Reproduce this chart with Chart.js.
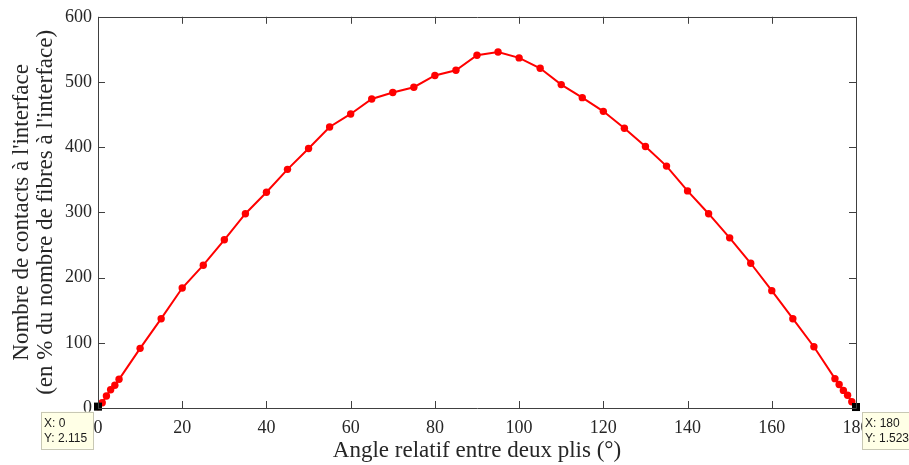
<!DOCTYPE html>
<html>
<head>
<meta charset="utf-8">
<script src="https://cdn.jsdelivr.net/npm/chart.js@4/dist/chart.umd.min.js"></script>
<style>
html,body{margin:0;padding:0;background:#fff;}
#wrap{width:909px;height:465px;position:relative;}
</style>
</head>
<body>
<div id="wrap"><canvas id="c" width="909" height="465"></canvas></div>
<script>
// Data
const angles = [0,1,2,3,4,5,10,15,20,25,30,35,40,45,50,55,60,65,70,75,80,85,90,95,100,105,110,115,120,125,130,135,140,145,150,155,160,165,170,175,176,177,178,179,180];
const contacts = [2.115,8,18.5,28,35,44,91.5,137,184,219,258,298,331,366,398,431,451,474,484,492,510,518,541,546,537,521,496,476,455,429,401,371,333,298,261,222,180,137,94,45,36,27,19.5,9.5,1.523];
const tipX = [0,180];
const tipY = [2.115,1.523];
const xTicks = [0,20,40,60,80,100,120,140,160,180];
const yTicks = [0,100,200,300,400,500,600];
const xTitle = 'Angle relatif entre deux plis (°)';
const yTitle = ["Nombre de contacts à l'interface", "(en % du nombre de fibres à l'interface)"];

const serif = "'Liberation Serif', 'Times New Roman', serif";
const axisColor = '#404040';

const boxPlugin = {
  id: 'boxPlugin',
  afterDatasetsDraw(chart) {
    const {ctx, chartArea: a, scales: {x, y}} = chart;
    ctx.save();
    ctx.strokeStyle = axisColor;
    ctx.lineWidth = 1;
    ctx.beginPath();
    ctx.rect(Math.round(a.left) + 0.5, Math.round(a.top) + 0.5, Math.round(a.right - a.left), Math.round(a.bottom - a.top));
    ctx.stroke();
    const tl = 7;
    ctx.beginPath();
    xTicks.forEach(v => {
      const px = Math.round(x.getPixelForValue(v)) + 0.5;
      ctx.moveTo(px, a.bottom); ctx.lineTo(px, a.bottom - tl);
      ctx.moveTo(px, a.top); ctx.lineTo(px, a.top + tl);
    });
    yTicks.forEach(v => {
      const py = Math.round(y.getPixelForValue(v)) + 0.5;
      ctx.moveTo(a.left, py); ctx.lineTo(a.left + tl, py);
      ctx.moveTo(a.right, py); ctx.lineTo(a.right - tl, py);
    });
    ctx.stroke();
    ctx.restore();
  },
  afterDraw(chart) {
    const {ctx, scales: {x, y}} = chart;
    ctx.save();
    ctx.font = "12px 'Liberation Sans', Arial, sans-serif";
    ctx.textBaseline = 'middle';
    tipX.forEach((xv, i) => {
      const px = x.getPixelForValue(xv);
      const py = y.getPixelForValue(tipY[i]);
      const w = i === 0 ? 52 : 52;
      const h = 37;
      const bx = i === 0 ? px - 5 - w : px + 6;
      const by = py + 5;
      ctx.fillStyle = '#ffffe6';
      ctx.fillRect(bx, by, w, h);
      ctx.strokeStyle = '#c8c8b4';
      ctx.lineWidth = 1;
      ctx.strokeRect(Math.round(bx) + 0.5, Math.round(by) + 0.5, w, h);
      ctx.fillStyle = '#1a1a1a';
      ctx.textAlign = 'left';
      ctx.fillText('X: ' + xv, bx + 3, by + 12);
      ctx.fillText('Y: ' + tipY[i], bx + 3, by + 27);
    });
    ctx.restore();
  }
};

new Chart(document.getElementById('c'), {
  type: 'scatter',
  data: {
    datasets: [
      {
        data: angles.map((a, i) => ({x: a, y: contacts[i]})),
        showLine: true,
        borderColor: '#ff0000',
        backgroundColor: '#ff0000',
        borderWidth: 2,
        pointRadius: 3.7,
        pointBorderWidth: 0,
        pointBackgroundColor: '#ff0000',
        tension: 0,
        clip: false,
        order: 2
      },
      {
        data: tipX.map((a, i) => ({x: a, y: tipY[i]})),
        showLine: false,
        pointStyle: 'rect',
        pointRadius: 5.7,
        pointBackgroundColor: '#000000',
        pointBorderColor: '#000000',
        pointBorderWidth: 0,
        clip: false,
        order: 1
      }
    ]
  },
  options: {
    responsive: false,
    animation: false,
    events: [],
    layout: {padding: {top: 11, right: 53, left: 0, bottom: 0}},
    plugins: {legend: {display: false}, tooltip: {enabled: false}},
    scales: {
      x: {
        type: 'linear',
        min: 0, max: 180,
        afterBuildTicks(s) { s.ticks = xTicks.map(v => ({value: v})); },
        afterFit(s) { s.height = 57; },
        grid: {display: true, drawOnChartArea: false, drawTicks: false},
        border: {display: false},
        ticks: {
          color: '#262626',
          font: {family: serif, size: 18},
          padding: 9,
          maxRotation: 0,
          autoSkip: false
        },
        title: {
          display: true,
          text: xTitle,
          color: '#262626',
          font: {family: serif, size: 23, lineHeight: 1.05},
          padding: {top: 0, bottom: 2}
        }
      },
      y: {
        type: 'linear',
        min: 0, max: 600,
        afterBuildTicks(s) { s.ticks = yTicks.map(v => ({value: v})); },
        afterFit(s) { s.width = 98; },
        grid: {display: true, drawOnChartArea: false, drawTicks: false},
        border: {display: false},
        ticks: {
          color: '#262626',
          font: {family: serif, size: 18},
          padding: 6
        },
        title: {
          display: true,
          text: yTitle,
          color: '#262626',
          font: {family: serif, size: 23, lineHeight: 1.05},
          padding: {top: 10, bottom: 0}
        }
      }
    }
  },
  plugins: [boxPlugin]
});
</script>
</body>
</html>
